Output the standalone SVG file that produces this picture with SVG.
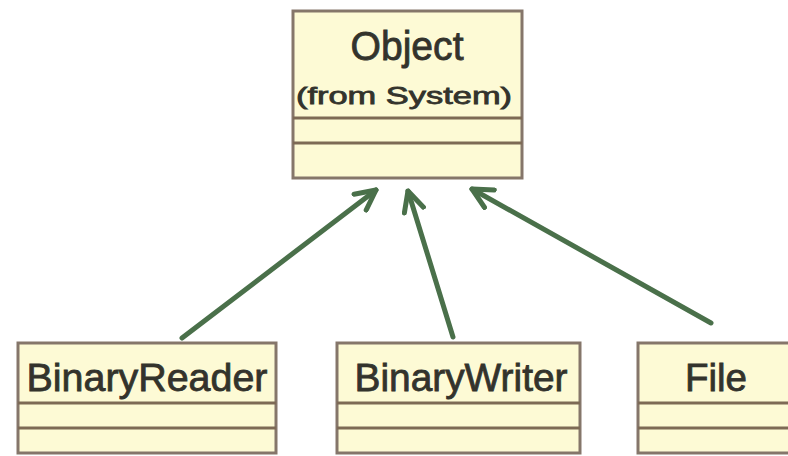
<svg xmlns="http://www.w3.org/2000/svg" width="788" height="456" viewBox="0 0 788 456">
<defs>
<style>
.box{fill:#fdfad5;stroke:#85766a;stroke-width:3}
.div{stroke:#7d6a55;stroke-width:3}
.t{font-family:"Liberation Sans",Arial,sans-serif;fill:#33332c;stroke:#33332c;stroke-width:0.8;text-anchor:middle}
.edge{stroke:#4a704a;stroke-width:5;fill:none;stroke-linecap:round;stroke-linejoin:round}
</style>
<marker id="arr" viewBox="0 0 20 20" refX="18" refY="10" markerWidth="5" markerHeight="5" markerUnits="strokeWidth" orient="auto">
<path d="M2,2 L18,10 L2,18" fill="none" stroke="#4a704a" stroke-width="4" stroke-linecap="round" stroke-linejoin="round"/>
</marker>
</defs>
<rect width="788" height="456" fill="#ffffff"/>
<g id="connectors">
<line class="edge" x1="182" y1="338" x2="376" y2="190" marker-end="url(#arr)"/>
<line class="edge" x1="453" y1="337" x2="408" y2="191" marker-end="url(#arr)"/>
<line class="edge" x1="711" y1="323" x2="472" y2="189" marker-end="url(#arr)"/>
</g>
<g id="object">
<rect class="box" x="293" y="11" width="229" height="167"/>
<line class="div" x1="293" y1="118" x2="522" y2="118"/>
<line class="div" x1="293" y1="143" x2="522" y2="143"/>
<text class="t" x="407" y="60" font-size="40" textLength="113" lengthAdjust="spacingAndGlyphs">Object</text>
<text class="t" x="404" y="104" font-size="24" textLength="216" lengthAdjust="spacingAndGlyphs">(from System)</text>
</g>
<g id="binaryreader">
<rect class="box" x="18" y="343" width="258" height="110"/>
<line class="div" x1="18" y1="403" x2="276" y2="403"/>
<line class="div" x1="18" y1="428" x2="276" y2="428"/>
<text class="t" x="147" y="391" font-size="38" textLength="241" lengthAdjust="spacingAndGlyphs">BinaryReader</text>
</g>
<g id="binarywriter">
<rect class="box" x="337" y="343" width="243" height="110"/>
<line class="div" x1="337" y1="403" x2="580" y2="403"/>
<line class="div" x1="337" y1="428" x2="580" y2="428"/>
<text class="t" x="461" y="391" font-size="38" textLength="213" lengthAdjust="spacingAndGlyphs">BinaryWriter</text>
</g>
<g id="file">
<rect class="box" x="638" y="343" width="160" height="110"/>
<line class="div" x1="638" y1="403" x2="788" y2="403"/>
<line class="div" x1="638" y1="428" x2="788" y2="428"/>
<text class="t" x="716" y="391" font-size="38" textLength="62" lengthAdjust="spacingAndGlyphs">File</text>
</g>
</svg>
